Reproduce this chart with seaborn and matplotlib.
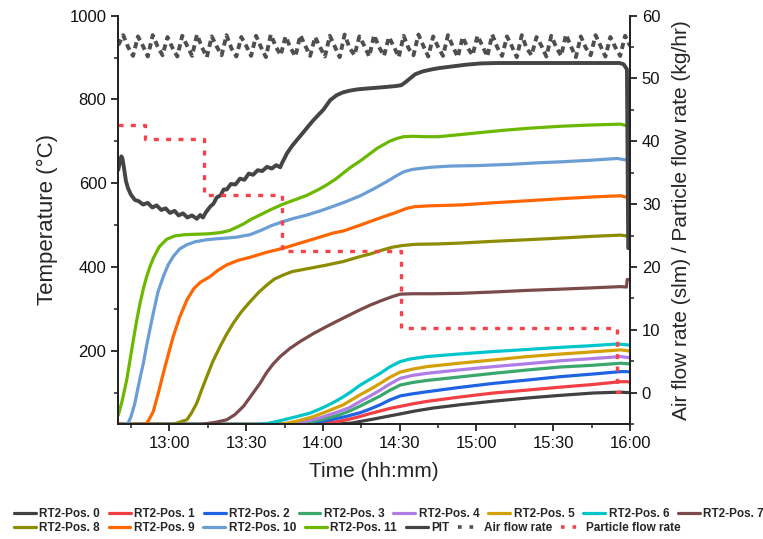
import numpy as np
import matplotlib
matplotlib.use('Agg')
import matplotlib.pyplot as plt
from matplotlib.ticker import MultipleLocator
from matplotlib.lines import Line2D
import seaborn as sns

# time is in minutes after 12:00, temperature in degC
pos0 = [(40, 24), (124, 24), (128, 26), (131, 27), (134.6, 31), (140, 37), (145, 43), (150.2, 49),
        (156, 56), (163, 63), (173.7, 71), (186, 79), (199.8, 87), (212, 93), (225.8, 99), (236, 101),
        (238.9, 100), (240, 100)]
pos1 = [(40, 24), (116, 24), (120, 26), (125, 30), (130, 36), (134.6, 43), (138.5, 50), (142.4, 56),
        (146, 62), (150.2, 67), (155, 73), (160.7, 79), (173, 89), (186.7, 99), (200, 106), (212.8, 113),
        (225, 119), (236.3, 126), (238.9, 126), (240, 125)]
pos2 = [(40, 24), (109, 24), (113, 26), (117, 29), (123, 35), (129, 43), (134.6, 52), (138.5, 61),
        (142.4, 71), (146, 82), (150.2, 92), (155, 97), (160.7, 102), (173, 112), (186.7, 122), (200, 130),
        (212.8, 138), (225, 144), (236.3, 150), (238.9, 150), (240, 149)]
pos3 = [(40, 24), (106, 24), (110, 26), (114, 29), (120, 36), (126, 46), (130, 55), (134.6, 68),
        (138.5, 80), (142.4, 92), (146, 105), (150.2, 118), (155, 124), (160.7, 129), (173, 137),
        (186.7, 146), (200, 154), (212.8, 161), (225, 165), (236.3, 170), (238.9, 169), (240, 168)]
pos4 = [(40, 24), (104, 24), (108, 26), (112, 30), (118, 38), (124, 50), (130, 63), (134.6, 79),
        (138.5, 92), (142.4, 106), (146, 120), (150.2, 134), (155, 141), (160.7, 146), (173, 154),
        (186.7, 162), (200, 169), (212.8, 176), (225, 181), (236.3, 186), (238.9, 184), (240, 183)]
pos5 = [(40, 24), (102, 24), (106, 27), (110, 32), (116, 42), (122, 56), (128, 71), (134.6, 95),
        (138.5, 108), (142.4, 122), (146, 136), (150.2, 149), (155, 156), (160.7, 162), (173, 170),
        (186.7, 178), (200, 186), (212.8, 192), (225, 197), (236.3, 202), (238.9, 200), (240, 199)]
pos6 = [(40, 24), (94, 24), (98, 26), (102, 31), (106, 37), (110, 43), (115, 51), (120, 64), (124, 76),
        (128, 90), (131, 102), (134.6, 118), (138.5, 132), (142.4, 146), (146, 161), (150.2, 174),
        (154, 180), (160.7, 186), (173, 192), (186.7, 198), (200, 203), (212.8, 208), (225, 212),
        (235, 216), (238.9, 214), (240, 213)]
pos7 = [(40, 24), (72, 24), (74.6, 26), (78, 29), (82.4, 35), (85.5, 47), (88.9, 67), (92, 93),
        (95.4, 122), (98, 148), (100.5, 168), (103.3, 186), (107, 205), (111.1, 222), (116, 240),
        (121.5, 258), (126, 272), (130.6, 286), (134.6, 298), (138.5, 309), (143, 320), (147, 329),
        (150.2, 335), (155, 336), (163, 336), (173.7, 337), (186, 340), (199.8, 344), (213, 347),
        (225, 350), (236.3, 353), (238.6, 352), (238.9, 370), (240, 370)]
pos8 = [(40, 24), (61, 24), (62.8, 27), (66.8, 35), (68.5, 50), (70.7, 75), (72.5, 105), (74.6, 138),
        (77, 175), (79.8, 210), (82.4, 240), (85, 266), (88, 292), (91.5, 317), (95, 340), (98.1, 357),
        (101, 371), (104.6, 381), (108, 389), (115, 397), (121, 404), (128, 413), (134.6, 425),
        (138.5, 431), (143, 440), (147, 447), (150.9, 451), (156, 454), (165, 455), (173.7, 457),
        (186, 461), (199.8, 465), (213, 469), (225, 473), (236.3, 476), (238.9, 474), (240, 473)]
pos9 = [(40, 24), (50, 24), (51.1, 27), (52, 35), (53.7, 55), (55.5, 95), (57.6, 146), (59.5, 190),
        (61.5, 234), (64, 280), (66.8, 321), (69.5, 348), (72, 363), (75.9, 377), (78.5, 390),
        (82.4, 405), (87, 416), (91.5, 423), (98, 435), (104.6, 445), (110, 455), (117.6, 469),
        (124, 481), (128, 486), (134.6, 500), (140, 512), (143.7, 520), (147.6, 528), (152.8, 540),
        (156, 544), (162, 546), (173.7, 548), (186, 553), (199.8, 558), (213, 563), (225, 567),
        (236.3, 570), (238.9, 566), (240, 565)]
pos10 = [(40, 24), (42.8, 24), (43.9, 28), (44.8, 40), (45.6, 55), (46.5, 75), (47.5, 105), (48.7, 140),
         (49.8, 170), (51, 210), (52.4, 252), (53.7, 290), (55.5, 340), (57.6, 377), (59.5, 405),
         (61.5, 425), (64, 443), (66.8, 453), (70, 460), (74.6, 465), (78, 467), (82.4, 469), (86, 471),
         (91.5, 477), (96, 488), (100, 499), (103.3, 506), (108, 515), (113.7, 524), (119, 534),
         (124.1, 545), (129, 556), (134.6, 570), (140, 587), (145, 604), (148.5, 617), (151.5, 627),
         (155, 633), (162, 638), (170, 641), (180, 642), (193.2, 645), (205, 649), (213, 651),
         (225, 655), (235, 659), (238.9, 655), (240, 652)]
pos11 = [(40, 46), (41.5, 80), (43.3, 130), (44.6, 178), (45.9, 226), (47.2, 272), (48.5, 313),
         (49.8, 348), (51.1, 377), (52.4, 401), (53.7, 421), (56, 448), (58.9, 466), (62, 474), (66, 477),
         (70, 478), (75, 479), (80, 482), (83.5, 487), (86, 494), (89, 503), (92, 514), (96, 526),
         (100, 538), (104, 549), (108, 558), (113.7, 571), (118, 584), (121.5, 596), (125, 610),
         (130.6, 637), (135, 655), (141.1, 683), (146, 700), (149, 707), (151.5, 711), (155, 712),
         (160, 711), (165, 711), (172, 715), (180, 720), (190, 726), (200, 731), (213, 736), (225, 739),
         (236.3, 741), (238.9, 737), (240, 736)]

pit = [(40.0, 632), (40.6, 650), (41.2, 664), (41.6, 660), (42.2, 638), (43.0, 605), (43.8, 588),
       (45.0, 572), (46.5, 560), (48.0, 557), (49.7, 549), (51.5, 553), (53.3, 542), (55.0, 547),
       (56.8, 536), (58.5, 540), (60.2, 529), (62.0, 534), (63.6, 523), (65.3, 528), (67.0, 518),
       (68.8, 523), (70.7, 515), (72.0, 524), (73.1, 518), (74.2, 530), (75.9, 544), (77.2, 551),
       (78.5, 566), (80.0, 571), (81.2, 585), (82.4, 585), (84.0, 598), (85.8, 597), (87.6, 611),
       (89.3, 608), (91.0, 623), (92.7, 620), (94.5, 631), (96.3, 629), (98.1, 639), (100.0, 635),
       (101.7, 643), (103.3, 638), (104.0, 648), (105.0, 660), (105.9, 671), (107.8, 688), (109.8, 703),
       (112.0, 719), (114.0, 734), (116.2, 750), (118.2, 763), (120.1, 775), (122.8, 798), (125.3, 810),
       (127.9, 817), (130.5, 821), (133.4, 824), (137.0, 826), (141.1, 828), (145.0, 830), (148.5, 832),
       (150.6, 834), (152.0, 840), (154.0, 850), (156.0, 860), (159.0, 867), (162.7, 872), (165.5, 875),
       (168.2, 877), (172.0, 880), (176.0, 883), (181.7, 886), (188.0, 887), (195.2, 887), (205.0, 887),
       (215.0, 887), (225.0, 887), (235.9, 887), (237.5, 884), (238.8, 872), (239.3, 445), (240.0, 445)]

# air flow rate (slm), sampled evenly from 12:40 to 16:00
air_flow = [55.3,
            56.9, 55.0, 53.6, 56.7, 55.2, 53.5, 56.9, 55.1, 53.7, 56.6, 54.9, 53.5,
            56.8, 55.2, 53.6, 57.0, 55.0, 53.4, 56.7, 55.1, 53.7, 56.9, 54.8, 53.5,
            56.6, 55.2, 53.6, 56.8, 55.0, 53.4, 57.0, 55.1, 53.7, 56.7, 54.9, 53.5,
            56.9, 55.2, 53.6, 56.6, 55.0, 53.5, 56.8, 55.1, 53.4, 57.0, 54.9, 53.7,
            56.7, 55.2, 53.5, 56.9, 55.0, 53.6, 56.6, 55.1, 53.4, 56.8, 54.8, 53.7,
            57.0, 55.2, 53.5, 56.7, 55.0, 53.6, 56.9, 55.1, 53.4, 56.6, 54.9, 53.7,
            56.8, 55.2, 53.5, 57.0, 55.0, 53.6, 56.7, 55.1, 53.4, 56.9, 54.8, 53.7,
            56.6, 55.2, 53.5, 56.8, 55.0, 53.6, 57.0, 55.1, 53.4, 56.7, 54.9, 53.7,
            56.9, 55.2, 53.5, 56.6, 55.0, 53.6,
            56.8, 55.2]

# particle flow rate (kg/hr), step changes
part_t = [40, 50.4, 73.5, 103.9, 150.5, 235.0, 239.0]
part_F = [42.6, 40.3, 31.4, 22.6, 10.2, 0.1, 0.1]

labels = ['RT2-Pos. 0', 'RT2-Pos. 1', 'RT2-Pos. 2', 'RT2-Pos. 3', 'RT2-Pos. 4', 'RT2-Pos. 5',
          'RT2-Pos. 6', 'RT2-Pos. 7', 'RT2-Pos. 8', 'RT2-Pos. 9', 'RT2-Pos. 10', 'RT2-Pos. 11']
colors = ['#414141', '#F23F45', '#1F63E2', '#3AA86C', '#B07CE6', '#D3A006', '#00C6CB', '#7B4B4B',
          '#8C8C00', '#FF6600', '#6A9ED5', '#6CB800']
pit_color = '#454545'
air_color = '#4F4F4F'
part_color = '#F5424B'

tick_pos = [60, 90, 120, 150, 180, 210, 240]
tick_labels = ['13:00', '13:30', '14:00', '14:30', '15:00', '15:30', '16:00']

sns.set_style('ticks')
plt.rcParams['font.family'] = ['Liberation Sans', 'DejaVu Sans']

fig = plt.figure(figsize=(7.63, 5.39), dpi=100)
ax = fig.add_axes([0.155, 0.2134, 0.6707, 0.7575])
ax2 = ax.twinx()

for d, c in zip([pos0, pos1, pos2, pos3, pos4, pos5, pos6, pos7, pos8, pos9, pos10, pos11], colors):
    t, T = np.array(d).T
    sns.lineplot(x=t, y=T, ax=ax, color=c, lw=2.3, estimator=None, sort=False)

t, T = np.array(pit).T
sns.lineplot(x=t, y=T, ax=ax, color=pit_color, lw=2.8, estimator=None, sort=False)

air_t = np.linspace(40, 240, len(air_flow))
sns.lineplot(x=air_t, y=air_flow, ax=ax2, color=air_color, lw=2.8, ls=(0, (1.6, 1.1)),
             estimator=None, sort=False)
sns.lineplot(x=part_t, y=part_F, ax=ax2, color=part_color, lw=2.4, ls=(0, (1.5, 2.2)),
             drawstyle='steps-post', estimator=None, sort=False)

ax.set_xlim(40, 240)
ax.set_ylim(25, 1000)
ax2.set_ylim(-5, 60)
ax.set_xticks(tick_pos)
ax.set_xticklabels(tick_labels)
ax.xaxis.set_minor_locator(MultipleLocator(15))
ax.set_yticks([200, 400, 600, 800, 1000])
ax.yaxis.set_minor_locator(MultipleLocator(100))
ax2.set_yticks([0, 10, 20, 30, 40, 50, 60])
ax2.yaxis.set_minor_locator(MultipleLocator(5))

for a in (ax, ax2):
    a.spines['top'].set_visible(False)
    for s in a.spines.values():
        s.set_linewidth(1.3)
        s.set_color('#222222')
    a.tick_params(which='major', direction='out', length=5, width=1.3, labelsize=12,
                  color='#222222', labelcolor='#111111')
    a.tick_params(which='minor', direction='out', length=3, width=1.1, color='#222222')

ax.set_xlabel('Time (hh:mm)', fontsize=15, labelpad=8)
ax.set_ylabel('Temperature (°C)', fontsize=16, labelpad=8)
ax2.set_ylabel('Air flow rate (slm) / Particle flow rate (kg/hr)', fontsize=15, labelpad=8)

handles = [Line2D([], [], color=c, lw=2.3) for c in colors]
handles.append(Line2D([], [], color=pit_color, lw=2.3))
handles.append(Line2D([], [], color=air_color, lw=2.6, ls=(0, (1, 2.2))))
handles.append(Line2D([], [], color=part_color, lw=2.6, ls=(0, (1, 2.2))))
names = labels + ['PIT', 'Air flow rate', 'Particle flow rate']

leg_kw = dict(loc='center left', frameon=False, prop={'weight': 'bold', 'size': 8.5},
              handlelength=1.85, handletextpad=0.3, columnspacing=0.75, borderpad=0, borderaxespad=0)
fig.legend(handles[:8], names[:8], bbox_to_anchor=(0.018, 0.046), ncol=8, **leg_kw)
fig.legend(handles[8:], names[8:], bbox_to_anchor=(0.018, 0.020), ncol=7, **leg_kw)

fig.savefig('out.png', dpi=100)
